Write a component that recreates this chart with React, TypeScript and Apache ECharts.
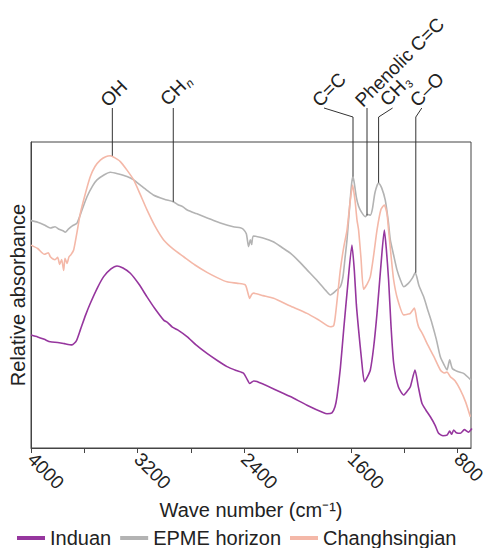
import React, { useEffect, useRef } from "react";
import * as echarts from "echarts";

// Wave numbers (cm-1) and relative absorbance (arbitrary 0-100 scale) per series
const induanWn = [4000, 3950, 3900, 3855, 3800, 3750, 3693, 3660, 3630, 3590, 3555, 3500, 3455, 3400, 3355, 3310, 3255, 3190, 3130, 3070, 3005, 2975, 2940, 2900, 2830, 2760, 2680, 2600, 2530, 2460, 2405, 2380, 2360, 2330, 2305, 2180, 2055, 1930, 1805, 1780, 1743, 1720, 1705, 1680, 1655, 1625, 1593, 1575, 1560, 1543, 1520, 1500, 1480, 1455, 1430, 1405, 1375, 1350, 1335, 1318, 1300, 1280, 1245, 1205, 1180, 1155, 1120, 1095, 1068, 1040, 1005, 970, 943, 910, 880, 860, 845, 830, 810, 780, 750, 720, 693];
const induanAbs = [36.9, 36.3, 35.5, 34.7, 34.5, 34.1, 33.7, 35.0, 38.6, 43.5, 47.3, 52.5, 56.0, 58.5, 59.5, 58.8, 57.1, 53.5, 49.4, 45.5, 41.8, 41.0, 39.5, 38.6, 36.4, 33.6, 30.9, 28.5, 26.6, 25.3, 24.4, 22.5, 21.1, 21.9, 21.7, 19.3, 16.8, 14.0, 11.5, 11.2, 11.5, 13.5, 16.8, 26.0, 38.6, 53.0, 66.3, 58.0, 47.0, 38.6, 28.5, 21.7, 23.0, 25.5, 33.0, 44.0, 60.0, 71.2, 65.0, 54.9, 40.0, 27.7, 20.0, 17.3, 18.5, 20.0, 25.5, 20.0, 14.6, 12.5, 10.2, 7.5, 4.8, 4.0, 4.2, 5.5, 4.5, 5.9, 5.0, 4.8, 6.0, 5.2, 6.4];

const epmeWn = [4000, 3950, 3900, 3855, 3820, 3790, 3760, 3743, 3720, 3690, 3655, 3620, 3580, 3540, 3505, 3450, 3405, 3350, 3280, 3230, 3180, 3130, 3083, 3000, 2933, 2900, 2860, 2828, 2760, 2678, 2580, 2483, 2430, 2408, 2385, 2368, 2355, 2345, 2333, 2260, 2183, 2120, 2055, 1990, 1930, 1850, 1790, 1755, 1710, 1680, 1660, 1645, 1630, 1610, 1595, 1585, 1575, 1560, 1543, 1520, 1493, 1475, 1455, 1440, 1420, 1393, 1370, 1343, 1320, 1305, 1280, 1255, 1230, 1205, 1170, 1140, 1118, 1090, 1055, 1020, 993, 960, 930, 900, 880, 860, 840, 800, 756, 700];
const epmeAbs = [74.3, 73.8, 72.9, 71.9, 72.3, 71.5, 71.0, 70.5, 71.5, 72.6, 73.5, 77.5, 82.1, 85.5, 87.6, 89.3, 90.1, 89.6, 88.7, 87.6, 85.9, 84.2, 82.7, 81.3, 80.5, 79.6, 78.8, 77.8, 76.6, 75.2, 73.5, 72.3, 72.0, 71.5, 70.0, 65.8, 68.0, 66.5, 69.3, 68.6, 67.4, 65.6, 63.7, 61.0, 58.2, 54.5, 51.5, 50.0, 51.5, 52.7, 56.0, 62.0, 68.0, 79.0, 86.5, 88.7, 86.5, 82.0, 79.0, 77.0, 75.6, 76.3, 76.1, 78.0, 83.5, 86.7, 85.0, 81.0, 74.0, 68.0, 63.0, 58.2, 55.0, 52.7, 53.8, 55.5, 57.3, 53.0, 49.4, 44.5, 40.8, 35.5, 29.8, 27.0, 25.5, 28.8, 26.0, 25.0, 24.4, 22.2];

const changWn = [4000, 3950, 3900, 3870, 3855, 3820, 3800, 3785, 3770, 3755, 3745, 3730, 3715, 3700, 3680, 3655, 3630, 3590, 3555, 3520, 3480, 3440, 3405, 3370, 3330, 3280, 3230, 3180, 3130, 3070, 3005, 2930, 2855, 2770, 2680, 2600, 2530, 2450, 2393, 2375, 2360, 2345, 2330, 2260, 2180, 2060, 1930, 1840, 1755, 1730, 1718, 1700, 1680, 1655, 1630, 1605, 1588, 1570, 1555, 1543, 1525, 1506, 1480, 1455, 1430, 1405, 1375, 1350, 1330, 1318, 1300, 1280, 1250, 1205, 1170, 1155, 1125, 1105, 1093, 1060, 1030, 980, 930, 900, 880, 855, 820, 780, 740, 705];
const changAbs = [66.3, 65.2, 63.3, 63.8, 62.5, 61.5, 62.3, 60.0, 61.6, 58.0, 62.0, 60.3, 62.5, 63.2, 64.7, 70.5, 76.7, 83.5, 88.7, 92.0, 94.1, 95.2, 95.5, 94.8, 93.6, 90.8, 87.6, 82.8, 77.8, 72.5, 68.0, 64.9, 62.5, 59.8, 57.4, 55.6, 54.3, 53.8, 53.3, 51.0, 48.9, 50.2, 50.6, 49.8, 48.9, 46.5, 44.0, 41.8, 39.6, 40.0, 42.9, 50.0, 58.2, 65.5, 71.2, 81.0, 85.9, 81.0, 74.5, 71.2, 62.0, 51.9, 53.5, 56.0, 63.0, 71.2, 78.0, 79.4, 76.5, 71.2, 63.0, 54.9, 48.5, 43.5, 43.8, 44.0, 45.7, 41.5, 39.6, 37.0, 34.2, 30.0, 25.5, 24.5, 24.8, 23.3, 22.0, 19.0, 15.0, 10.2];

const seriesNames = ["Induan", "EPME horizon", "Changhsingian"];
const seriesColors = ["#96369E", "#B3B3B3", "#F4B8A8"];

const tickValues = [4000, 3600, 3200, 2800, 2400, 2000, 1600, 1200, 800];
const labelValues = [4000, 3200, 2400, 1600, 800];

// Peak annotations: label, wave number, absorbance at leader foot
const peakLabels = ["OH", "CHn", "C=C", "Phenolic C=C", "CH3", "C\u2013O"];
const peakWn = [3390, 2933, 1585, 1480, 1393, 1114];
const peakAbs = [95.5, 80.5, 88.7, 76.0, 86.7, 57.3];

const FONT = "'Liberation Sans', Arial, Helvetica, sans-serif";

function pairs(xs: number[], ys: number[]) {
  return xs.map((x, i) => [x, ys[i]]);
}

export default function App() {
  const ref = useRef<HTMLDivElement>(null);
  useEffect(() => {
    if (!ref.current) return;
    const chart = echarts.init(ref.current, null, { renderer: "svg" });
    const data = [pairs(induanWn, induanAbs), pairs(epmeWn, epmeAbs), pairs(changWn, changAbs)];
    chart.setOption({
      animation: false,
      textStyle: { fontFamily: FONT },
      grid: {
        left: 31,
        right: 17,
        top: 142,
        bottom: 100,
        show: true,
        borderColor: "#444",
        borderWidth: 1,
        containLabel: false,
        outerBoundsMode: "none",
      },
      legend: {
        left: 12,
        top: 523,
        itemWidth: 28,
        itemHeight: 4,
        itemGap: 9,
        icon: "rect",
        textStyle: { fontSize: 20, color: "#222", fontFamily: FONT },
        data: seriesNames,
      },
      xAxis: {
        type: "value",
        min: 700,
        max: 4000,
        inverse: true,
        name: "Wave number (cm\u207B\u00B9)",
        nameLocation: "middle",
        nameGap: 50,
        nameTextStyle: { fontSize: 20, color: "#222", fontFamily: FONT },
        axisLine: { show: true, lineStyle: { color: "#444", width: 1 } },
        axisTick: { show: true, length: 5, lineStyle: { color: "#444" }, customValues: tickValues },
        axisLabel: {
          show: true,
          rotate: -45,
          fontSize: 19,
          color: "#222",
          margin: 8,
          fontFamily: FONT,
          customValues: labelValues,
          formatter: (v: number) => String(v),
        },
        splitLine: { show: false },
      },
      yAxis: {
        type: "value",
        min: 0,
        max: 100,
        name: "Relative absorbance",
        nameLocation: "middle",
        nameGap: 3,
        nameTextStyle: { fontSize: 20, color: "#222", fontFamily: FONT },
        axisLine: { show: true, lineStyle: { color: "#444", width: 1 } },
        axisTick: { show: false },
        axisLabel: { show: false },
        splitLine: { show: false },
      },
      series: [2, 1, 0].map((i) => ({
        type: "line",
        name: seriesNames[i],
        data: data[i],
        showSymbol: false,
        symbol: "none",
        smooth: 0.2,
        lineStyle: { color: seriesColors[i], width: 1.6 },
        itemStyle: { color: seriesColors[i] },
        z: 2 + i,
      })),
    });

    // Leader lines and labels
    const topY = 108;
    const bendY = 117;
    const labelShift: number[][] = [
      [0, 0],
      [0, 0],
      [-29, 0],
      [0, 0],
      [14, 0],
      [6, 0],
    ];
    const graphics: any[] = [];
    peakLabels.forEach((lab, i) => {
      const p = chart.convertToPixel({ xAxisIndex: 0, yAxisIndex: 0 }, [peakWn[i], peakAbs[i]]) as number[];
      const px = p[0];
      const py = p[1];
      const dx = labelShift[i][0];
      let pts: number[][];
      let end: number[];
      if (dx === 0) {
        pts = [[px, py], [px, topY]];
        end = [px, topY];
      } else {
        end = [px + dx, topY];
        pts = [[px, py], [px, bendY], end];
      }
      graphics.push({
        type: "polyline",
        shape: { points: pts },
        style: { stroke: "#333", lineWidth: 1, fill: null },
        z: 100,
        silent: true,
      });
      const rich: any = {
        m: { fontSize: 19, fontFamily: FONT, fill: "#222" },
        s: { fontSize: 11, fontFamily: FONT, fill: "#222", padding: [10, 0, 0, 1] },
        si: { fontSize: 12, fontFamily: FONT, fill: "#222", fontStyle: "italic", padding: [10, 0, 0, 1] },
      };
      let text: string;
      if (lab === "CHn") text = "{m|CH}{si|n}";
      else if (lab === "CH3") text = "{m|CH}{s|3}";
      else text = "{m|" + lab + "}";
      graphics.push({
        type: "text",
        x: end[0] - 2,
        y: end[1] + 2,
        rotation: Math.PI / 4,
        z: 100,
        silent: true,
        style: {
          text,
          rich,
          font: "19px " + FONT,
          fill: "#222",
          align: "left",
          verticalAlign: "bottom",
        },
      });
    });
    chart.setOption({ graphic: graphics });

    return () => chart.dispose();
  }, []);
  return <div ref={ref} style={{ width: 488, height: 548, position: "absolute", left: 0, top: 0 }} />;
}
